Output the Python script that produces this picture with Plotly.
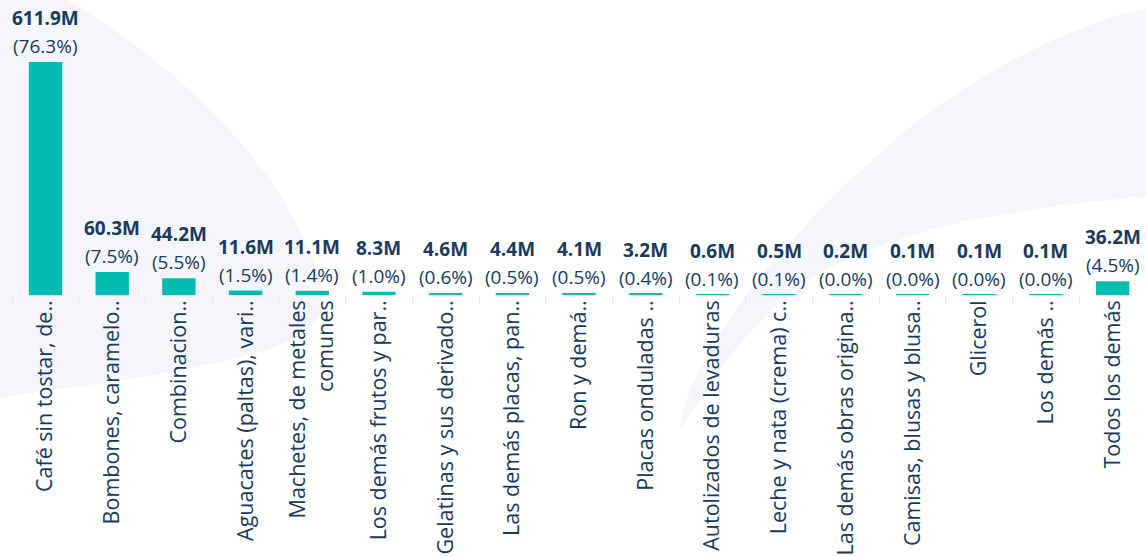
import plotly.graph_objects as go

categories = [
    "Café sin tostar, de..",
    "Bombones, caramelo..",
    "Combinacion..",
    "Aguacates (paltas), vari..",
    "Machetes, de metales<br>comunes",
    "Los demás frutos y par..",
    "Gelatinas y sus derivado..",
    "Las demás placas, pan..",
    "Ron y demá..",
    "Placas onduladas ..",
    "Autolizados de levaduras",
    "Leche y nata (crema) c..",
    "Las demás obras origina..",
    "Camisas, blusas y blusa..",
    "Glicerol",
    "Los demás ..",
    "Todos los demás",
]
values_m = [611.9, 60.3, 44.2, 11.6, 11.1, 8.3, 4.6, 4.4, 4.1, 3.2, 0.6, 0.5, 0.2, 0.1, 0.1, 0.1, 36.2]
shares_pct = [76.3, 7.5, 5.5, 1.5, 1.4, 1.0, 0.6, 0.5, 0.5, 0.4, 0.1, 0.1, 0.0, 0.0, 0.0, 0.0, 4.5]

TEXT = "#163b5d"
BAR = "#00bcb1"
FONT = "Open Sans"

fig = go.Figure()
fig.add_trace(go.Bar(
    x=categories, y=values_m,
    marker=dict(color=BAR, line=dict(width=0)),
    hovertemplate="%{x}: %{y:.1f}M<extra></extra>",
))

annotations = []
for c, v, p in zip(categories, values_m, shares_pct):
    annotations.append(dict(x=c, y=v, xref="x", yref="y", text=f"({p:.1f}%)",
                            showarrow=False, yanchor="bottom", yshift=1,
                            font=dict(family=FONT, size=19, color=TEXT)))
    annotations.append(dict(x=c, y=v, xref="x", yref="y", text=f"<b>{v:.1f}M</b>",
                            showarrow=False, yanchor="bottom", yshift=29,
                            font=dict(family=FONT, size=19, color=TEXT)))

# faint decorative background shapes (pixel -> paper conversion)
L, R, TOP, BOT = 10, 1146, 0, 295
def px(x, y):
    return f"{(x - L) / (R - L):.4f},{(BOT - y) / (BOT - TOP):.4f}"

lobe = ("M " + px(-20, -20) + " L " + px(30, -20) + " C " + px(150, 40) + " " + px(290, 160) + " " + px(322, 290)
        + " C " + px(335, 345) + " " + px(250, 365) + " " + px(-20, 400) + " Z")
swoosh = ("M " + px(680, 430) + " C " + px(690, 350) + " " + px(780, 240) + " " + px(900, 135)
          + " C " + px(980, 70) + " " + px(1080, 20) + " " + px(1160, 5)
          + " L " + px(1160, 195) + " C " + px(1050, 205) + " " + px(900, 220) + " " + px(800, 285)
          + " C " + px(740, 330) + " " + px(700, 400) + " " + px(680, 430) + " Z")
shapes = [
    dict(type="path", xref="paper", yref="paper", path=lobe, fillcolor="#f5f6f9",
         line=dict(width=0), layer="below"),
    dict(type="path", xref="paper", yref="paper", path=swoosh, fillcolor="#f5f6f9",
         line=dict(width=0), layer="below"),
]

fig.update_layout(
    width=1146, height=556,
    margin=dict(l=10, r=0, t=0, b=261),
    paper_bgcolor="white", plot_bgcolor="rgba(0,0,0,0)",
    bargap=0.5, showlegend=False,
    font=dict(family=FONT, color=TEXT),
    annotations=annotations, shapes=shapes,
    xaxis=dict(
        type="category", tickangle=-90, automargin=False,
        tickfont=dict(family=FONT, size=21.5, color=TEXT),
        ticks="outside", tickson="boundaries", ticklen=8, tickcolor="#e6e8eb",
        showgrid=False, showline=False, zeroline=False,
    ),
    yaxis=dict(
        range=[0, 611.9 * 295 / 233], showticklabels=False, zeroline=False,
        showgrid=True, tickvals=[0], gridcolor="#c9ced4", griddash="dot", gridwidth=1,
        automargin=False,
    ),
)

fig.write_html("out.html", config={"displayModeBar": False},
               post_script="document.body.style.margin='0';")
